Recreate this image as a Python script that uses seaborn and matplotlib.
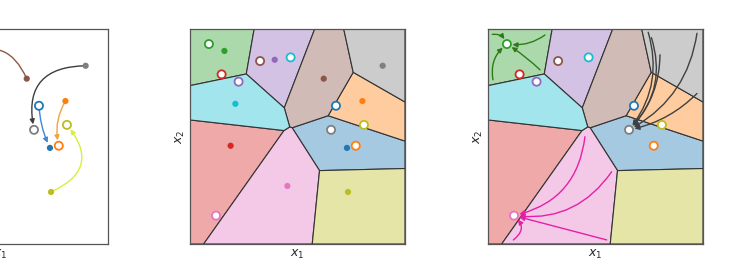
import numpy as np
import pandas as pd
import matplotlib
matplotlib.use("Agg")
import matplotlib.pyplot as plt
import seaborn as sns

# cluster names follow the tab10 order
names = ["blue", "orange", "green", "red", "purple", "brown", "pink", "gray", "olive", "cyan"]

# cluster centres (small filled dots), axes fraction coordinates
dot_x = [0.730, 0.802, 0.160, 0.189, 0.394, 0.622, 0.453, 0.896, 0.735, 0.211]
dot_y = [0.447, 0.665, 0.898, 0.457, 0.857, 0.769, 0.270, 0.829, 0.242, 0.652]

# target points (open circles)
tgt_x = [0.679, 0.771, 0.088, 0.147, 0.226, 0.326, 0.121, 0.656, 0.809, 0.468]
tgt_y = [0.643, 0.457, 0.930, 0.789, 0.755, 0.851, 0.132, 0.531, 0.554, 0.868]

# left panel: matching arrows (name, from dot to circle?, curvature, colour)
left_names = ["brown", "gray", "blue", "orange", "olive"]
left_forward = [True, True, False, True, True]
left_rad = [0.6, 0.6, 0.1, 0.2, 0.65]
left_colors = ["#8b5a45", "#3d3d3d", "#3f86d8", "#f2a33a", "#d6ef3e"]

# right panel: flow trajectories ending at a target
traj_name = ["green", "green", "green", "green",
             "gray", "gray", "gray", "gray", "gray",
             "pink", "pink", "pink", "pink"]
traj_x0 = [0.265, 0.020, 0.023, 0.242,
           0.745, 0.760, 0.972, 0.972, 0.800,
           0.451, 0.575, 0.552, 0.118]
traj_y0 = [0.972, 0.975, 0.764, 0.810,
           0.985, 0.960, 0.980, 0.700, 0.880,
           0.499, 0.336, 0.019, 0.019]
traj_rad = [-0.2, -0.4, -0.3, 0.05,
            -0.26, -0.3, -0.25, -0.15, -0.2,
            -0.35, -0.3, 0.0, 0.6]
traj_colors = {"green": "#2f7a16", "gray": "#404040", "pink": "#e61fa6"}

pal = dict(zip(names, sns.color_palette("tab10")))
dots = pd.DataFrame({"x": dot_x, "y": dot_y, "c": names})
tgts = pd.DataFrame({"x": tgt_x, "y": tgt_y, "c": names})


def voronoi_cells(px, py):
    pts = np.column_stack([px, py])
    cells = []
    for i, p in enumerate(pts):
        poly = [np.array(v, float) for v in [(0, 0), (1, 0), (1, 1), (0, 1)]]
        for j, q in enumerate(pts):
            if i == j:
                continue
            n = q - p
            m = (p + q) / 2
            out = []
            for k in range(len(poly)):
                a, b = poly[k], poly[(k + 1) % len(poly)]
                da, db = np.dot(a - m, n), np.dot(b - m, n)
                if da <= 0:
                    out.append(a)
                if da * db < 0:
                    out.append(a + (b - a) * da / (da - db))
            poly = out
        cells.append(np.array(poly))
    return cells


def draw_cells(ax):
    for name, poly in zip(names, voronoi_cells(dot_x, dot_y)):
        col = np.array(pal[name]) * 0.4 + 0.6
        ax.fill(poly[:, 0], poly[:, 1], facecolor=col, edgecolor="#333333",
                lw=0.8, zorder=1)


def draw_dots(ax):
    sns.scatterplot(data=dots, x="x", y="y", hue="c", palette=pal, s=20,
                    linewidth=0, legend=False, ax=ax, zorder=5)


def draw_targets(ax):
    sns.scatterplot(data=tgts, x="x", y="y", hue="c", palette=pal, s=34,
                    linewidth=1.3, legend=False, ax=ax, zorder=6)
    coll = ax.collections[-1]
    coll.set_edgecolors(coll.get_facecolors())
    coll.set_facecolors("white")


def arrow(ax, start, end, color, rad):
    ax.annotate("", xy=end, xytext=start, zorder=4,
                arrowprops=dict(arrowstyle="-|>", color=color, lw=1.0,
                                mutation_scale=7, shrinkA=0, shrinkB=4,
                                connectionstyle=f"arc3,rad={rad}"))


sns.set_style("white")
fig = plt.figure(figsize=(7.3, 2.8), dpi=100)
w, h = 215 / 730, 215 / 280
bottom = 36 / 280
axes = [fig.add_axes([left / 730, bottom, w, h]) for left in (-107, 190, 488)]

# left: matching arrows
ax = axes[0]
for name, fwd, rad, col in zip(left_names, left_forward, left_rad, left_colors):
    i = names.index(name)
    d, t = (dot_x[i], dot_y[i]), (tgt_x[i], tgt_y[i])
    arrow(ax, d if fwd else t, t if fwd else d, col, rad)
draw_dots(ax)
draw_targets(ax)

# middle: voronoi cells of the centres
ax = axes[1]
draw_cells(ax)
draw_dots(ax)
draw_targets(ax)

# right: trajectories inside the cells
ax = axes[2]
draw_cells(ax)
for name, x0, y0, rad in zip(traj_name, traj_x0, traj_y0, traj_rad):
    i = names.index(name)
    arrow(ax, (x0, y0), (tgt_x[i], tgt_y[i]), traj_colors[name], rad)
draw_targets(ax)

for ax in axes:
    ax.set_xlim(0, 1)
    ax.set_ylim(0, 1)
    ax.set_xticks([])
    ax.set_yticks([])
    ax.set_xlabel("$x_1$", fontsize=9, labelpad=3)
    ax.set_ylabel("$x_2$", fontsize=9, labelpad=2)
    for s in ax.spines.values():
        s.set_color("#555555")
        s.set_linewidth(0.9)

fig.savefig("out.png", dpi=100)
